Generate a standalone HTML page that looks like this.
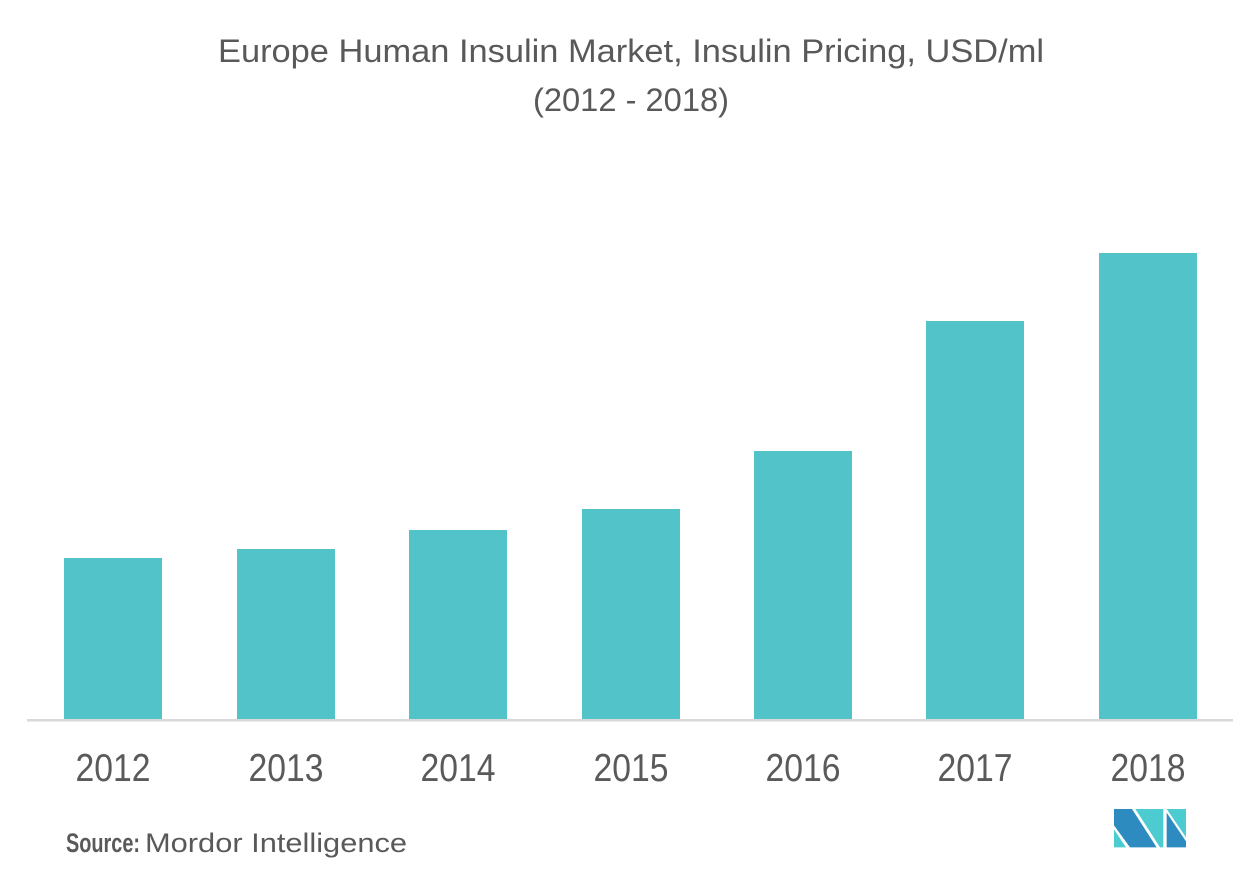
<!DOCTYPE html>
<html>
<head>
<meta charset="utf-8">
<style>
  html, body { margin: 0; padding: 0; background: #ffffff; }
  body { width: 1253px; height: 880px; overflow: hidden; }
  svg { display: block; }
  text { font-family: "Liberation Sans", sans-serif; }
</style>
</head>
<body>
<svg width="1253" height="880" viewBox="0 0 1253 880" xmlns="http://www.w3.org/2000/svg">
  <rect x="0" y="0" width="1253" height="880" fill="#ffffff"/>

  <!-- Title -->
  <text x="218" y="62" font-size="32" fill="#595959" textLength="826" lengthAdjust="spacingAndGlyphs">Europe Human Insulin Market, Insulin Pricing, USD/ml</text>
  <text x="533" y="111" font-size="32" fill="#595959" textLength="196" lengthAdjust="spacingAndGlyphs">(2012 - 2018)</text>

  <!-- Bars -->
  <g fill="#52C4C9">
    <rect x="64" y="558" width="98" height="162"/>
    <rect x="237" y="549" width="98" height="171"/>
    <rect x="409" y="530" width="98" height="190"/>
    <rect x="582" y="509" width="98" height="211"/>
    <rect x="754" y="451" width="98" height="269"/>
    <rect x="926" y="321" width="98" height="399"/>
    <rect x="1099" y="253" width="98" height="467"/>
  </g>

  <!-- Axis line -->
  <rect x="27" y="719" width="1206" height="2.5" fill="#d9d9d9"/>

  <!-- X labels -->
  <g font-size="39" fill="#5a5a5a" text-anchor="middle">
    <text x="113" y="781" textLength="75" lengthAdjust="spacingAndGlyphs">2012</text>
    <text x="286" y="781" textLength="75" lengthAdjust="spacingAndGlyphs">2013</text>
    <text x="458" y="781" textLength="75" lengthAdjust="spacingAndGlyphs">2014</text>
    <text x="631" y="781" textLength="75" lengthAdjust="spacingAndGlyphs">2015</text>
    <text x="803" y="781" textLength="75" lengthAdjust="spacingAndGlyphs">2016</text>
    <text x="975" y="781" textLength="75" lengthAdjust="spacingAndGlyphs">2017</text>
    <text x="1148" y="781" textLength="75" lengthAdjust="spacingAndGlyphs">2018</text>
  </g>

  <!-- Source -->
  <text x="66" y="852" font-size="27" font-weight="bold" fill="#595959" textLength="74" lengthAdjust="spacingAndGlyphs">Source:</text>
  <text x="145" y="852" font-size="27" fill="#595959" textLength="262" lengthAdjust="spacingAndGlyphs">Mordor Intelligence</text>

  <!-- Logo -->
  <g transform="translate(1108,804) scale(0.3333)">
    <polygon points="18,76 18,130 54,130" fill="#4CCBD0"/>
    <polygon points="18,15 72,15 146,130 66,130 18,64" fill="#2E8BC0"/>
    <polygon points="82,15 166,15 166,130 156,130" fill="#4CCBD0"/>
    <polygon points="176,15 234,15 234,100" fill="#4CCBD0"/>
    <polygon points="176,26 234,112 234,130 176,130" fill="#2E8BC0"/>
  </g>
</svg>
</body>
</html>
